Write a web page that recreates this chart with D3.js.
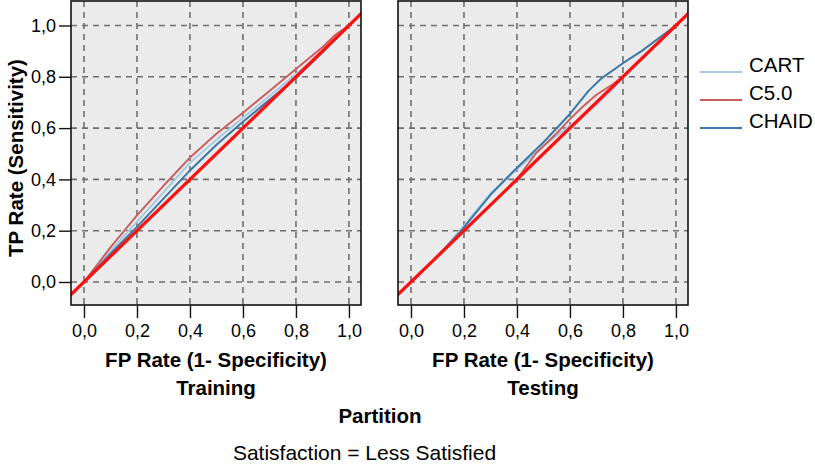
<!DOCTYPE html>
<html>
<head>
<meta charset="utf-8">
<script src="https://cdn.jsdelivr.net/npm/d3@7"></script>
<style>
  html, body { margin: 0; padding: 0; background: #ffffff; }
  svg { display: block; }
  text { font-family: "Liberation Sans", Arial, sans-serif; fill: #000; }
</style>
</head>
<body>
<svg id="chart" width="815" height="465"></svg>
<script>
// ROC curves per partition: [FP rate, TP rate]
const partitions = ["Training", "Testing"];
const models = ["CART", "C5.0", "CHAID"];
const modelColors = ["#a9cbe2", "#c9605f", "#3b78a7"];

const trainingCART = [[0,0],[0.05,0.06],[0.1,0.12],[0.2,0.235],[0.3,0.35],[0.4,0.465],[0.5,0.555],[0.6,0.64],[0.7,0.725],[0.8,0.81],[0.9,0.9],[1,1]];
const trainingC50 = [[0,0],[0.03,0.04],[0.1,0.135],[0.2,0.26],[0.3,0.375],[0.4,0.485],[0.5,0.578],[0.6,0.66],[0.7,0.745],[0.8,0.83],[0.9,0.915],[0.95,0.965],[1,1]];
const trainingCHAID = [[0,0],[0.1,0.11],[0.2,0.215],[0.3,0.325],[0.4,0.435],[0.5,0.535],[0.6,0.625],[0.7,0.71],[0.8,0.795],[0.9,0.895],[1,1]];

const testingCART = [[0,0],[0.1,0.1],[0.2,0.22],[0.3,0.345],[0.4,0.44],[0.5,0.53],[0.6,0.61],[0.65,0.645],[0.7,0.69],[0.76,0.75],[0.8,0.8],[1,1]];
const testingC50 = [[0,0],[0.2,0.2],[0.4,0.4],[0.47,0.5],[0.55,0.58],[0.6,0.635],[0.65,0.685],[0.7,0.73],[0.76,0.77],[0.8,0.8],[1,1]];
const testingCHAID = [[0,0],[0.1,0.1],[0.19,0.2],[0.3,0.34],[0.385,0.43],[0.5,0.545],[0.6,0.655],[0.67,0.745],[0.72,0.795],[0.8,0.853],[0.87,0.9],[0.96,0.97],[1,1]];

const curves = {
  Training: [trainingCART, trainingC50, trainingCHAID],
  Testing: [testingCART, testingC50, testingCHAID]
};

const diagonal = [[-0.1,-0.1],[1.1,1.1]];
const tickValues = [0, 0.2, 0.4, 0.6, 0.8, 1.0];
const tickLabels = ["0,0", "0,2", "0,4", "0,6", "0,8", "1,0"];

const xAxisTitle = "FP Rate (1- Specificity)";
const yAxisTitle = "TP Rate (Sensitivity)";
const facetTitle = "Partition";
const footnote = "Satisfaction = Less Satisfied";

const svg = d3.select("#chart");

const panelLeft = [71, 398];
const panelWidth = 290;
const plotTop = 1, plotBottom = 305;

const y = d3.scaleLinear().domain([-0.0897, 1.0955]).range([plotBottom, plotTop]);
const fmt = d => tickLabels[tickValues.indexOf(d)];

partitions.forEach((name, pi) => {
  const x0 = panelLeft[pi];
  const x = d3.scaleLinear().domain([-0.049, 1.0455]).range([x0, x0 + panelWidth]);
  const g = svg.append("g");

  const clipId = "clip-" + pi;
  svg.append("clipPath").attr("id", clipId)
    .append("rect").attr("x", x0).attr("y", plotTop).attr("width", panelWidth).attr("height", plotBottom - plotTop);

  g.append("rect").attr("x", x0).attr("y", plotTop).attr("width", panelWidth).attr("height", plotBottom - plotTop)
    .attr("fill", "#ebebeb");

  // dashed grid
  const grid = g.append("g").attr("stroke", "#707070").attr("stroke-width", 1.6).attr("stroke-dasharray", "6,5");
  grid.selectAll(".gv").data(tickValues).join("line")
    .attr("x1", d => x(d)).attr("x2", d => x(d)).attr("y1", plotTop).attr("y2", plotBottom);
  grid.selectAll(".gh").data(tickValues).join("line")
    .attr("x1", x0).attr("x2", x0 + panelWidth).attr("y1", d => y(d)).attr("y2", d => y(d));

  const line = d3.line().x(d => x(d[0])).y(d => y(d[1]));
  const lines = g.append("g").attr("clip-path", `url(#${clipId})`);
  curves[name].forEach((data, mi) => {
    lines.append("path").datum(data)
      .attr("d", line).attr("fill", "none")
      .attr("stroke", modelColors[mi]).attr("stroke-width", 2)
      .attr("stroke-linejoin", "round");
  });
  lines.append("path").datum(diagonal)
    .attr("d", line).attr("fill", "none")
    .attr("stroke", "#ff1010").attr("stroke-width", 3.2);

  g.append("rect").attr("x", x0).attr("y", plotTop).attr("width", panelWidth).attr("height", plotBottom - plotTop)
    .attr("fill", "none").attr("stroke", "#111").attr("stroke-width", 1.6);

  // x axis
  const xAxis = d3.axisBottom(x).tickValues(tickValues).tickFormat(fmt).tickSize(13).tickPadding(6);
  const xa = g.append("g").attr("transform", `translate(0,${plotBottom})`).call(xAxis);
  xa.select(".domain").remove();
  xa.selectAll(".tick line").attr("stroke", "#111").attr("stroke-width", 1.4);
  xa.selectAll(".tick text").attr("font-size", 18).attr("font-family", "Liberation Sans, Arial, sans-serif")
    .attr("fill", "#111");

  g.append("text").attr("x", x0 + panelWidth / 2).attr("y", 367)
    .attr("text-anchor", "middle").attr("font-size", 20.5).attr("font-weight", "bold").text(xAxisTitle);
  g.append("text").attr("x", x0 + panelWidth / 2).attr("y", 395)
    .attr("text-anchor", "middle").attr("font-size", 20.5).attr("font-weight", "bold").text(name);

  if (pi === 0) {
    const yAxis = d3.axisLeft(y).tickValues(tickValues).tickFormat(fmt).tickSize(12).tickPadding(3);
    const ya = g.append("g").attr("transform", `translate(${x0},0)`).call(yAxis);
    ya.select(".domain").remove();
    ya.selectAll(".tick line").attr("stroke", "#111").attr("stroke-width", 1.4);
    ya.selectAll(".tick text").attr("font-size", 18).attr("font-family", "Liberation Sans, Arial, sans-serif")
      .attr("fill", "#111");
  }
});

svg.append("text").attr("transform", "translate(23,158) rotate(-90)")
  .attr("text-anchor", "middle").attr("font-size", 20.5).attr("font-weight", "bold").text(yAxisTitle);

svg.append("text").attr("x", 380).attr("y", 423)
  .attr("text-anchor", "middle").attr("font-size", 20.5).attr("font-weight", "bold").text(facetTitle);

svg.append("text").attr("x", 364.5).attr("y", 460)
  .attr("text-anchor", "middle").attr("font-size", 21).text(footnote);

// legend
const legend = svg.append("g");
const legendY = d3.scalePoint().domain(models).range([72, 128]);
models.forEach((m, i) => {
  legend.append("line").attr("x1", 700).attr("x2", 742)
    .attr("y1", legendY(m)).attr("y2", legendY(m))
    .attr("stroke", modelColors[i]).attr("stroke-width", 2.2);
  legend.append("text").attr("x", 749).attr("y", legendY(m))
    .attr("font-size", 20.5).text(m);
});
</script>
</body>
</html>
